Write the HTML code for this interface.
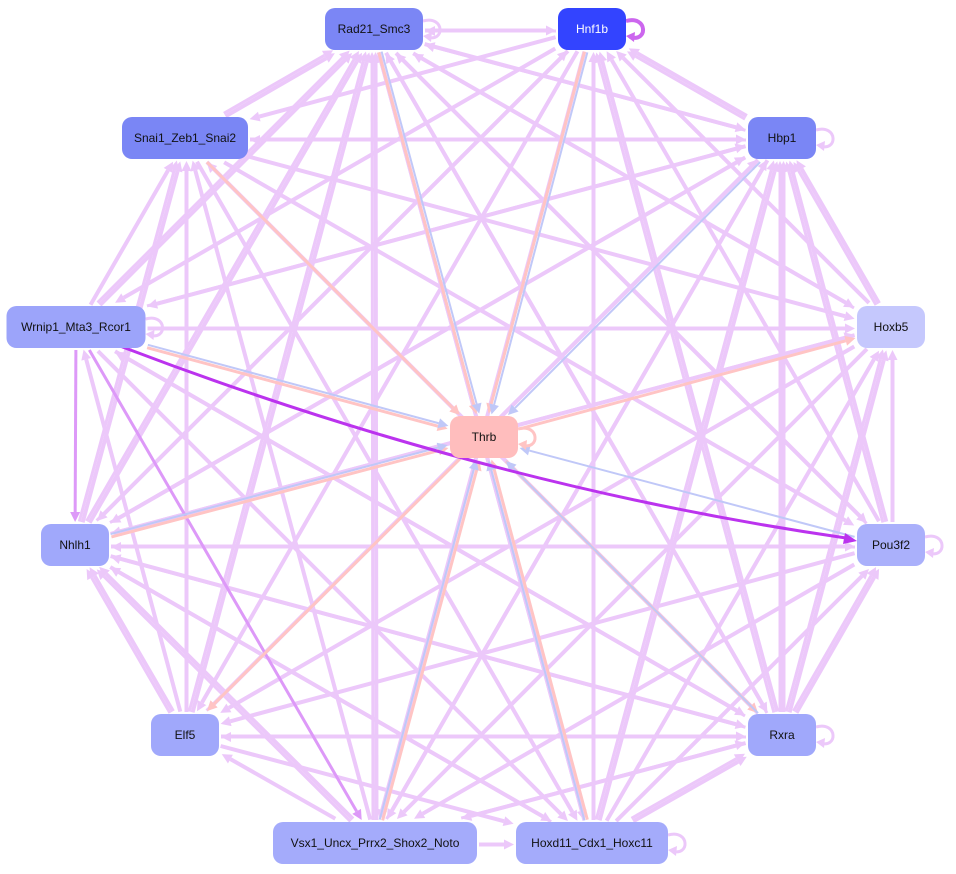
<!DOCTYPE html>
<html><head><meta charset="utf-8"><style>
html,body{margin:0;padding:0;background:#fff;width:956px;height:874px;overflow:hidden}
svg{display:block}
text{font-family:"Liberation Sans",Arial,sans-serif;font-size:12px}
</style></head><body>
<svg id="s" width="956" height="874" viewBox="0 0 956 874" xmlns="http://www.w3.org/2000/svg">
<g id="edges"></g><g id="nodes"></g>
</svg>
<script>
var N={
R:[374,29,98,42,'Rad21_Smc3','#7b86f5','#111'],
H:[592,29,68,42,'Hnf1b','#3344ff','#fff'],
S:[185,138,126,42,'Snai1_Zeb1_Snai2','#7a86f5','#111'],
B:[782,138,68,42,'Hbp1','#7a86f5','#111'],
W:[76,327,139,42,'Wrnip1_Mta3_Rcor1','#9ca4fa','#111'],
X:[891,327,68,42,'Hoxb5','#c5c8fd','#111'],
T:[484,437,68,42,'Thrb','#ffbdbd','#111'],
N:[75,545,68,42,'Nhlh1','#a0a8fb','#111'],
P:[891,545,68,42,'Pou3f2','#aab0fb','#111'],
E:[185,735,68,42,'Elf5','#a0a8fb','#111'],
A:[782,735,68,42,'Rxra','#a0a8fb','#111'],
V:[375,843,204,42,'Vsx1_Uncx_Prrx2_Shox2_Noto','#a4abfb','#111'],
D:[592,843,152,42,'Hoxd11_Cdx1_Hoxc11','#a4abfb','#111']};
var ns='http://www.w3.org/2000/svg',eg=document.getElementById('edges'),ng=document.getElementById('nodes');
function el(t,a,p){var e=document.createElementNS(ns,t);for(var k in a)e.setAttribute(k,a[k]);p.appendChild(e);return e}
function clip(n,dx,dy){var hw=n[2]/2+2,hh=n[3]/2+2;var t=Math.min(hw/Math.abs(dx||1e-9),hh/Math.abs(dy||1e-9));return t}
function edge(a,b,col,w,off){var p=N[a],q=N[b];var dx=q[0]-p[0],dy=q[1]-p[1],L=Math.hypot(dx,dy);var ox=-dy/L*(off||0),oy=dx/L*(off||0);
var t1=clip(p,dx,dy),t2=clip(q,dx,dy);var x1=p[0]+dx*t1+ox,y1=p[1]+dy*t1+oy,x2=q[0]-dx*t2+ox,y2=q[1]-dy*t2+oy;
var ux=dx/L,uy=dy/L,ah=10,aw=5;var bx=x2-ux*ah,by=y2-uy*ah;
el('line',{x1:x1,y1:y1,x2:bx,y2:by,stroke:col,'stroke-width':w},eg);
el('polygon',{points:x2+','+y2+' '+(bx-uy*aw)+','+(by+ux*aw)+' '+(bx+uy*aw)+','+(by-ux*aw),fill:col},eg);}
var outer=['R','H','S','B','W','X','N','P','E','A','V','D'];
var lp='#ecc8fa';
for(var i=0;i<outer.length;i++)for(var j=i+1;j<outer.length;j++){
var a=outer[i],b=outer[j];if((a=='W'&&b=='P')||(a=='W'&&b=='N')||(a=='W'&&b=='V'))continue;
if((i+j)%2)edge(a,b,lp,4,1.5);else edge(b,a,lp,4,1.5);
if((i*j)%3==0)edge(b,a,lp,3,-2);}
edge('W','N','#dd99f8',3,0);edge('W','V','#dd99f8',3,0);
var pink='#ffc4c4',blue='#c0c8f8';
var tp={R:1,H:1,S:1,W:1,X:1,N:1,E:1,A:1,V:1,D:1},tb={R:1,H:1,B:1,W:1,P:1,N:1,A:1,V:1,D:1};
outer.forEach(function(k){if(tp[k])edge(k=='X'||k=='E'||k=='A'?'T':k,k=='X'||k=='E'||k=='A'?k:'T',pink,3,1.5);if(tb[k])edge(k,'T',blue,2,-1.5);});
el('path',{d:'M120,346 Q486,486 846,538',fill:'none',stroke:'#bb33ee','stroke-width':3},eg);
el('polygon',{points:'857,541 845,533 843,544',fill:'#bb33ee'},eg);
function loop(k,col,w){var n=N[k];var x=n[0]+n[2]/2,y=n[1];
el('path',{d:'M'+x+','+(y-8)+' C'+(x+22)+','+(y-14)+' '+(x+22)+','+(y+14)+' '+(x+4)+','+(y+8),fill:'none',stroke:col,'stroke-width':w},eg);
el('polygon',{points:x+','+(y+7)+' '+(x+9)+','+(y+3)+' '+(x+8)+','+(y+13),fill:col},eg);}
loop('R',lp,3);loop('H','#cc66ee',4);loop('B',lp,3);loop('W',lp,3);loop('T',pink,3);loop('P',lp,3);loop('A',lp,3);loop('D',lp,3);
for(var k in N){var n=N[k];
el('rect',{x:n[0]-n[2]/2,y:n[1]-n[3]/2,width:n[2],height:n[3],rx:10,ry:10,fill:n[5]},ng);
var t=el('text',{x:n[0],y:n[1]+4,'text-anchor':'middle',fill:n[6]},ng);t.textContent=n[4];}
</script>
</body></html>
